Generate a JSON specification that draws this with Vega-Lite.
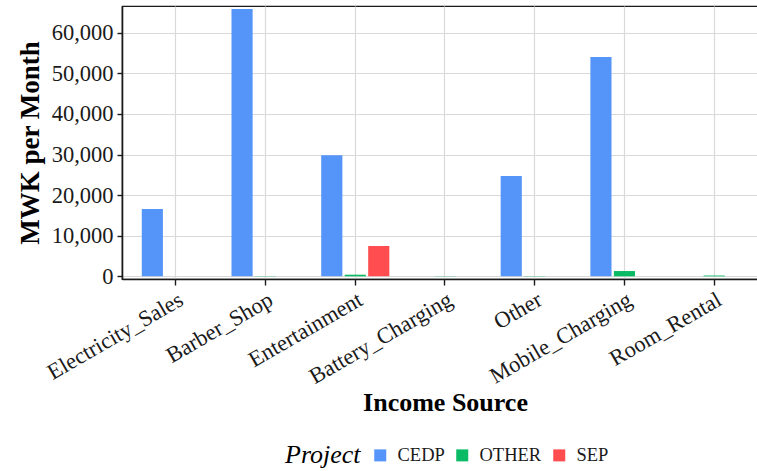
{
  "$schema": "https://vega.github.io/schema/vega-lite/v6.json",
  "autosize": {"type": "none"},
  "width": 636,
  "height": 273,
  "padding": {"left": 122, "top": 6, "right": 0, "bottom": 192},
  "background": "white",
  "config": {
    "font": "Liberation Serif, Times New Roman, serif",
    "view": {"stroke": "#1a1a1a", "strokeWidth": 1.2},
    "axis": {
      "labelFont": "Liberation Serif, Times New Roman, serif",
      "titleFont": "Liberation Serif, Times New Roman, serif",
      "labelColor": "#1a1a1a",
      "titleColor": "#000000",
      "domainColor": "#1a1a1a",
      "domainWidth": 1.6,
      "tickColor": "#1a1a1a",
      "tickWidth": 1.4,
      "gridColor": "#d9d9d9",
      "gridWidth": 1.2
    },
    "legend": {
      "labelFont": "Liberation Serif, Times New Roman, serif",
      "titleFont": "Liberation Serif, Times New Roman, serif"
    }
  },
  "data": {
    "values": [
      {"source": "Electricity_Sales", "project": "CEDP", "value": 16580},
      {"source": "Barber_Shop", "project": "CEDP", "value": 65850},
      {"source": "Barber_Shop", "project": "OTHER", "value": 60},
      {"source": "Entertainment", "project": "CEDP", "value": 29850},
      {"source": "Entertainment", "project": "OTHER", "value": 400},
      {"source": "Entertainment", "project": "SEP", "value": 7450},
      {"source": "Battery_Charging", "project": "OTHER", "value": 50},
      {"source": "Other", "project": "CEDP", "value": 24700},
      {"source": "Other", "project": "OTHER", "value": 60},
      {"source": "Mobile_Charging", "project": "CEDP", "value": 54000},
      {"source": "Mobile_Charging", "project": "OTHER", "value": 1300},
      {"source": "Room_Rental", "project": "OTHER", "value": 200}
    ]
  },
  "mark": {"type": "bar"},
  "encoding": {
    "x": {
      "field": "source",
      "type": "nominal",
      "sort": ["Electricity_Sales", "Barber_Shop", "Entertainment", "Battery_Charging", "Other", "Mobile_Charging", "Room_Rental"],
      "scale": {"range": [0, 646], "paddingInner": 0, "paddingOuter": 0.1},
      "axis": {
        "title": "Income Source",
        "titleFont": "Liberation Serif, Times New Roman, serif",
        "titleFontSize": 26,
        "titleFontWeight": "bold",
        "titlePadding": 2,
        "labelFont": "Liberation Serif, Times New Roman, serif",
        "labelFontSize": 22.5,
        "labelAngle": -30,
        "labelPadding": 3,
        "tickSize": 6,
        "bandPosition": 0.5,
        "grid": true
      }
    },
    "xOffset": {
      "field": "project",
      "type": "nominal",
      "scale": {"domain": ["CEDP", "OTHER", "SEP"], "paddingInner": 0.1, "paddingOuter": 0.46}
    },
    "y": {
      "field": "value",
      "type": "quantitative",
      "scale": {"domain": [-660, 66580], "nice": false},
      "axis": {
        "title": "MWK per Month",
        "titleFont": "Liberation Serif, Times New Roman, serif",
        "titleFontSize": 27,
        "titleFontWeight": "bold",
        "titlePadding": 7,
        "labelFont": "Liberation Serif, Times New Roman, serif",
        "labelFontSize": 22.5,
        "labelPadding": 4,
        "tickSize": 5,
        "values": [0, 10000, 20000, 30000, 40000, 50000, 60000],
        "format": ",d",
        "grid": true
      }
    },
    "color": {
      "field": "project",
      "type": "nominal",
      "scale": {"domain": ["CEDP", "OTHER", "SEP"], "range": ["#5594F8", "#0ABB66", "#FF4D50"]},
      "legend": {
        "title": "Project",
        "orient": "none",
        "legendX": 163,
        "legendY": 440,
        "direction": "horizontal",
        "titleOrient": "left",
        "titleFont": "Liberation Serif, Times New Roman, serif",
        "titleFontSize": 26,
        "titleFontStyle": "italic",
        "titleFontWeight": "normal",
        "titleColor": "#000000",
        "titlePadding": 10,
        "labelFont": "Liberation Serif, Times New Roman, serif",
        "labelFontSize": 18.5,
        "labelColor": "#1a1a1a",
        "symbolType": "square",
        "symbolSize": 144,
        "symbolStrokeWidth": 0,
        "columnPadding": 8,
        "labelOffset": 8
      }
    }
  }
}
